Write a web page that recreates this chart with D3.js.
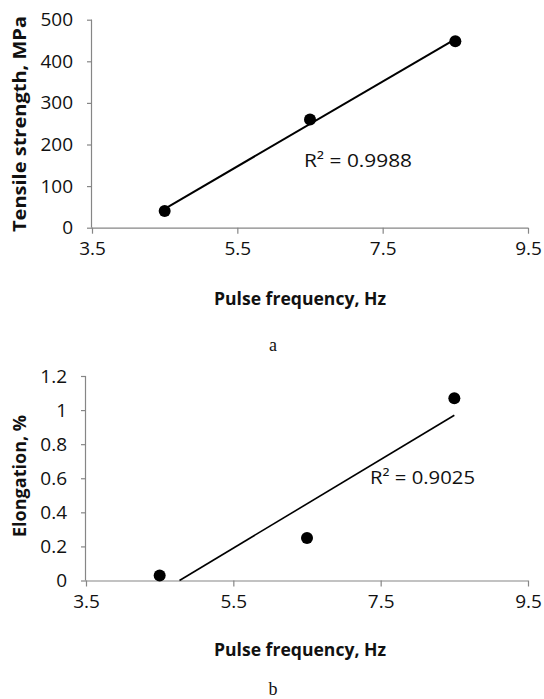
<!DOCTYPE html>
<html>
<head>
<meta charset="utf-8">
<script src="https://cdn.jsdelivr.net/npm/d3@7"></script>
<style>
  html, body { margin: 0; padding: 0; background: #fff; }
  svg { display: block; }
</style>
</head>
<body>
<svg id="chart" width="544" height="699"></svg>
<script>
// ---- data ----
const pulseFreq = [4.5, 6.5, 8.5];
const tensileStrength = [40, 260, 448];
const elongation = [0.03, 0.25, 1.07];
const xTicks = [3.5, 5.5, 7.5, 9.5];
const yTicksA = [0, 100, 200, 300, 400, 500];
const yTicksB = [0, 0.2, 0.4, 0.6, 0.8, 1, 1.2];
const r2Labels = ["R² = 0.9988", "R² = 0.9025"];
const xTitle = "Pulse frequency, Hz";
const yTitles = ["Tensile strength, MPa", "Elongation, %"];
const captions = ["a", "b"];

const svg = d3.select("#chart");
const FONT = "'Open Sans', 'Noto Sans', sans-serif";
const AXIS = "#868686";

function linreg(xs, ys) {
  const n = xs.length;
  const mx = d3.mean(xs), my = d3.mean(ys);
  let sxy = 0, sxx = 0;
  for (let i = 0; i < n; i++) { sxy += (xs[i]-mx)*(ys[i]-my); sxx += (xs[i]-mx)**2; }
  const b = sxy / sxx;
  return { b, a: my - b*mx };
}

function panel(cfg) {
  const x = d3.scaleLinear().domain([3.5, 9.5]).range([cfg.left, cfg.right]);
  const y = d3.scaleLinear().domain(cfg.ydom).range([cfg.bottom, cfg.top]);
  const g = svg.append("g");

  const xa = g.append("g").attr("transform", `translate(0,${cfg.bottom})`)
    .call(d3.axisBottom(x).tickValues(xTicks).tickSize(6).tickPadding(cfg.xpad).tickFormat(d3.format(".1f")));
  const ya = g.append("g").attr("transform", `translate(${cfg.left},0)`)
    .call(d3.axisLeft(y).tickValues(cfg.yticks).tickSize(5).tickPadding(cfg.ypad).tickFormat(d => String(+d.toFixed(1))));
  [xa, ya].forEach(a => {
    a.select(".domain").attr("stroke", AXIS).attr("stroke-width", 1.2);
    a.selectAll(".tick line").attr("stroke", AXIS).attr("stroke-width", 1.2);
    a.selectAll(".tick text").attr("fill", "#111").style("font-family", FONT).style("font-size", "19px");
  });
  xa.select(".domain").attr("d", `M${cfg.left},0.5H${cfg.right}`);
  ya.select(".domain").attr("d", `M-0.5,${cfg.bottom}V${cfg.top}`);

  // trendline (least squares), clipped at the bottom of the y domain
  const { a, b } = linreg(pulseFreq, cfg.values);
  let x0 = d3.min(pulseFreq), x1 = d3.max(pulseFreq);
  if (a + b*x0 < cfg.ydom[0]) x0 = (cfg.ydom[0] - a) / b;
  g.append("line")
    .attr("x1", x(x0)).attr("y1", y(a + b*x0))
    .attr("x2", x(x1)).attr("y2", y(a + b*x1))
    .attr("stroke", "#000").attr("stroke-width", cfg.lw);

  g.selectAll("circle").data(pulseFreq).join("circle")
    .attr("cx", d => x(d)).attr("cy", (d, i) => y(cfg.values[i]))
    .attr("r", 6).attr("fill", "#000");

  g.append("text").attr("x", cfg.r2x).attr("y", cfg.r2y)
    .attr("textLength", cfg.r2len).attr("lengthAdjust", "spacingAndGlyphs")
    .style("font-family", FONT).style("font-size", "18px").attr("fill", "#111")
    .text(cfg.r2);

  g.append("text").attr("x", 300).attr("y", cfg.xtitleY).attr("text-anchor", "middle")
    .attr("textLength", 172).attr("lengthAdjust", "spacingAndGlyphs")
    .style("font-family", FONT).style("font-size", "17px").style("font-weight", "bold").attr("fill", "#111")
    .text(xTitle);

  g.append("text").attr("transform", `translate(${cfg.ytitleX},${cfg.ytitleY}) rotate(-90)`)
    .attr("text-anchor", "middle")
    .attr("textLength", cfg.ytitleLen).attr("lengthAdjust", "spacingAndGlyphs")
    .style("font-family", FONT).style("font-size", "17px").style("font-weight", "bold").attr("fill", "#111")
    .text(cfg.ytitle);

  g.append("text").attr("x", 273).attr("y", cfg.capY).attr("text-anchor", "middle")
    .style("font-family", "'Liberation Serif', 'Times New Roman', serif").style("font-size", "18px").attr("fill", "#111")
    .text(cfg.caption);
}

panel({
  left: 92, right: 528, top: 19.7, bottom: 227.7, ydom: [0, 500], yticks: yTicksA,
  values: tensileStrength, lw: 2, xpad: 8, ypad: 14,
  r2: r2Labels[0], r2x: 304, r2y: 167, r2len: 108,
  xtitleY: 305, ytitle: yTitles[0], ytitleX: 26, ytitleY: 124, ytitleLen: 216,
  caption: captions[0], capY: 351
});

panel({
  left: 86, right: 528, top: 376, bottom: 580.5, ydom: [0, 1.2], yticks: yTicksB,
  values: elongation, lw: 1.6, xpad: 8, ypad: 14,
  r2: r2Labels[1], r2x: 370, r2y: 484, r2len: 105,
  xtitleY: 656, ytitle: yTitles[1], ytitleX: 26, ytitleY: 476, ytitleLen: 122,
  caption: captions[1], capY: 695
});
</script>
</body>
</html>
